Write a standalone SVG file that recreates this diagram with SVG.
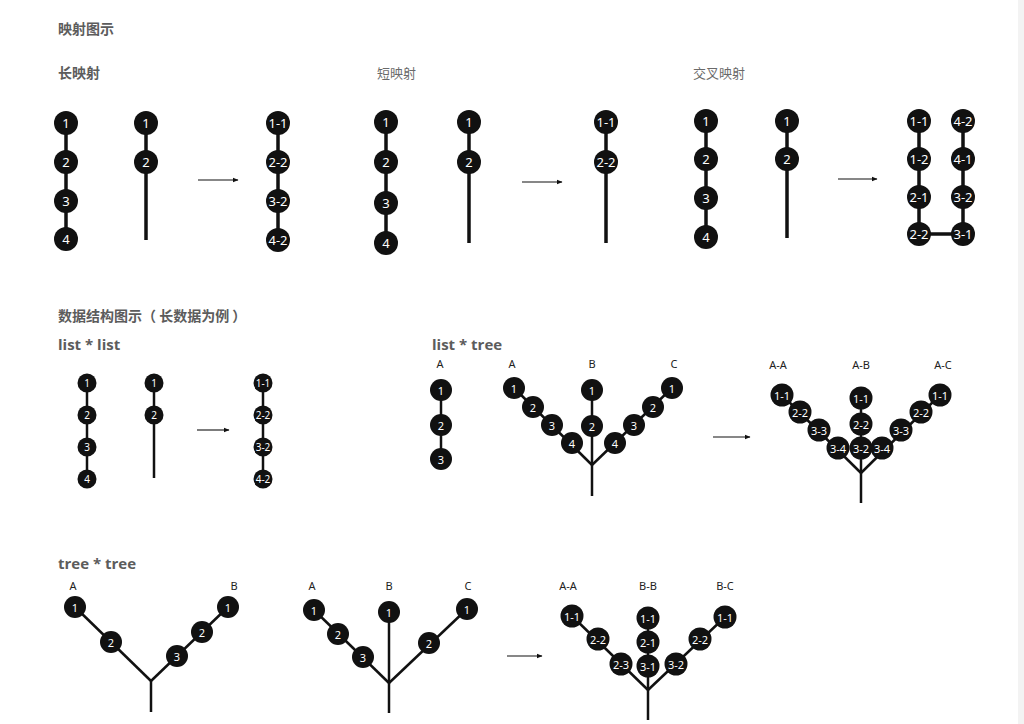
<svg xmlns="http://www.w3.org/2000/svg" width="1024" height="724" viewBox="0 0 1024 724">
<style>
.t{font-family:"Noto Sans CJK SC","Noto Sans",sans-serif;fill:#5c5c5c}
.h{font-size:14px;font-weight:bold}
.s{font-size:13px;font-weight:normal;fill:#6a6a6a}
.e{font-family:"Open Sans","Noto Sans",sans-serif;font-size:15px;font-weight:bold;fill:#5c5c5c}
.lb{font-family:"Noto Sans","Open Sans",sans-serif;font-size:11px;fill:#222;text-anchor:middle}
circle{fill:#111}
.n text{font-family:"Noto Sans","Open Sans",sans-serif;fill:#fff;text-anchor:middle;dominant-baseline:central}
.L text{font-size:13px}
.M text{font-size:10px}
.T text{font-size:11px}
.c line,.c path{stroke:#111;fill:none}
.w3{stroke-width:3.5}
.w2{stroke-width:2.5}
.ar{stroke-width:1.1}
</style>
<defs>
<marker id="ah" markerWidth="6" markerHeight="6" refX="5" refY="3" orient="auto" markerUnits="userSpaceOnUse">
<path d="M0,0.8 L5.5,3 L0,5.2 Z" fill="#111"/>
</marker>
</defs>
<rect width="1024" height="724" fill="#fff"/>
<rect x="1018" y="0" width="6" height="724" fill="#f3f3f3"/>

<g id="titles">
<text class="t h" x="58" y="34">映射图示</text>
<text class="t h" x="58" y="78">长映射</text>
<text class="t s" x="377" y="78">短映射</text>
<text class="t s" x="693" y="78">交叉映射</text>
<text class="t h" x="58" y="321" xml:space="preserve">数据结构图示（ 长数据为例 ）</text>
<text class="e" x="58" y="350">list * list</text>
<text class="e" x="432" y="350">list * tree</text>
<text class="e" x="58" y="569">tree * tree</text>
</g>

<g id="labels">
<text class="lb" x="440" y="368">A</text>
<text class="lb" x="512" y="368">A</text>
<text class="lb" x="592" y="368">B</text>
<text class="lb" x="674" y="368">C</text>
<text class="lb" x="778" y="369">A-A</text>
<text class="lb" x="861" y="369">A-B</text>
<text class="lb" x="943" y="369">A-C</text>
<text class="lb" x="73" y="590">A</text>
<text class="lb" x="234" y="590">B</text>
<text class="lb" x="312" y="590">A</text>
<text class="lb" x="389" y="590">B</text>
<text class="lb" x="468" y="590">C</text>
<text class="lb" x="568" y="590">A-A</text>
<text class="lb" x="648" y="590">B-B</text>
<text class="lb" x="725" y="590">B-C</text>
</g>

<g id="connectors" class="c">
<line class="w3" x1="66" y1="123" x2="66" y2="239"/>
<line class="w3" x1="146" y1="123" x2="146" y2="240"/>
<line class="ar" x1="198" y1="180" x2="238" y2="180" marker-end="url(#ah)"/>
<line class="w3" x1="278" y1="123" x2="278" y2="240"/>
<line class="w3" x1="386" y1="122" x2="386" y2="243"/>
<line class="w3" x1="469" y1="122" x2="469" y2="243"/>
<line class="ar" x1="522" y1="182" x2="562" y2="182" marker-end="url(#ah)"/>
<line class="w3" x1="606" y1="122" x2="606" y2="243"/>
<line class="w3" x1="706" y1="121" x2="706" y2="237"/>
<line class="w3" x1="787" y1="121" x2="787" y2="238"/>
<line class="ar" x1="838" y1="179" x2="877" y2="179" marker-end="url(#ah)"/>
<path class="w3" d="M919,121 V234 H963 V121"/>
<line class="w2" x1="87" y1="383" x2="87" y2="479"/>
<line class="w2" x1="154" y1="383" x2="154" y2="478"/>
<line class="ar" x1="197" y1="430" x2="229" y2="430" marker-end="url(#ah)"/>
<line class="w2" x1="263" y1="383" x2="263" y2="479"/>
<line class="w2" x1="441" y1="390" x2="441" y2="459"/>
<line class="w2" x1="514" y1="388" x2="592" y2="465"/>
<line class="w2" x1="592" y1="390" x2="592" y2="496"/>
<line class="w2" x1="672" y1="388" x2="592" y2="465"/>
<line class="ar" x1="713" y1="437" x2="750" y2="437" marker-end="url(#ah)"/>
<line class="w2" x1="782" y1="395" x2="861" y2="473"/>
<line class="w2" x1="861" y1="398" x2="861" y2="503"/>
<line class="w2" x1="940" y1="395" x2="861" y2="473"/>
<line class="w2" x1="75" y1="607" x2="151" y2="681"/>
<line class="w2" x1="228" y1="607" x2="151" y2="681"/>
<line class="w2" x1="151" y1="681" x2="151" y2="712"/>
<line class="w2" x1="314" y1="610" x2="389" y2="683"/>
<line class="w2" x1="389" y1="612" x2="389" y2="713"/>
<line class="w2" x1="467" y1="609" x2="389" y2="683"/>
<line class="ar" x1="507" y1="656" x2="542" y2="656" marker-end="url(#ah)"/>
<line class="w2" x1="572" y1="616" x2="648" y2="690"/>
<line class="w2" x1="648" y1="618" x2="648" y2="720"/>
<line class="w2" x1="725" y1="617" x2="648" y2="690"/>
</g>

<g id="long-a" class="n L">
<circle cx="66" cy="123" r="12"/><text x="66" y="123">1</text>
<circle cx="66" cy="162" r="12"/><text x="66" y="162">2</text>
<circle cx="66" cy="201" r="12"/><text x="66" y="201">3</text>
<circle cx="66" cy="239" r="12"/><text x="66" y="239">4</text>
</g>
<g id="long-b" class="n L">
<circle cx="146" cy="123" r="12"/><text x="146" y="123">1</text>
<circle cx="146" cy="162" r="12"/><text x="146" y="162">2</text>
</g>
<g id="long-r" class="n L">
<circle cx="278" cy="123" r="12"/><text x="278" y="123">1-1</text>
<circle cx="278" cy="162" r="12"/><text x="278" y="162">2-2</text>
<circle cx="278" cy="201" r="12"/><text x="278" y="201">3-2</text>
<circle cx="278" cy="240" r="12"/><text x="278" y="240">4-2</text>
</g>
<g id="short-a" class="n L">
<circle cx="386" cy="122" r="12"/><text x="386" y="122">1</text>
<circle cx="386" cy="162" r="12"/><text x="386" y="162">2</text>
<circle cx="386" cy="203" r="12"/><text x="386" y="203">3</text>
<circle cx="386" cy="243" r="12"/><text x="386" y="243">4</text>
</g>
<g id="short-b" class="n L">
<circle cx="469" cy="122" r="12"/><text x="469" y="122">1</text>
<circle cx="469" cy="162" r="12"/><text x="469" y="162">2</text>
</g>
<g id="short-r" class="n L">
<circle cx="606" cy="122" r="12"/><text x="606" y="122">1-1</text>
<circle cx="606" cy="162" r="12"/><text x="606" y="162">2-2</text>
</g>
<g id="cross-a" class="n L">
<circle cx="706" cy="121" r="12"/><text x="706" y="121">1</text>
<circle cx="706" cy="159" r="12"/><text x="706" y="159">2</text>
<circle cx="706" cy="198" r="12"/><text x="706" y="198">3</text>
<circle cx="706" cy="237" r="12"/><text x="706" y="237">4</text>
</g>
<g id="cross-b" class="n L">
<circle cx="787" cy="121" r="12"/><text x="787" y="121">1</text>
<circle cx="787" cy="159" r="12"/><text x="787" y="159">2</text>
</g>
<g id="cross-r" class="n L">
<circle cx="919" cy="121" r="12"/><text x="919" y="121">1-1</text>
<circle cx="919" cy="159" r="12"/><text x="919" y="159">1-2</text>
<circle cx="919" cy="197" r="12"/><text x="919" y="197">2-1</text>
<circle cx="919" cy="234" r="12"/><text x="919" y="234">2-2</text>
<circle cx="963" cy="121" r="12"/><text x="963" y="121">4-2</text>
<circle cx="963" cy="159" r="12"/><text x="963" y="159">4-1</text>
<circle cx="963" cy="197" r="12"/><text x="963" y="197">3-2</text>
<circle cx="963" cy="234" r="12"/><text x="963" y="234">3-1</text>
</g>
<g id="ll-a" class="n M">
<circle cx="87" cy="383" r="9.5"/><text x="87" y="383">1</text>
<circle cx="87" cy="415" r="9.5"/><text x="87" y="415">2</text>
<circle cx="87" cy="447" r="9.5"/><text x="87" y="447">3</text>
<circle cx="87" cy="479" r="9.5"/><text x="87" y="479">4</text>
</g>
<g id="ll-b" class="n M">
<circle cx="154" cy="383" r="9.5"/><text x="154" y="383">1</text>
<circle cx="154" cy="415" r="9.5"/><text x="154" y="415">2</text>
</g>
<g id="ll-r" class="n M">
<circle cx="263" cy="383" r="9.5"/><text x="263" y="383">1-1</text>
<circle cx="263" cy="415" r="9.5"/><text x="263" y="415">2-2</text>
<circle cx="263" cy="447" r="9.5"/><text x="263" y="447">3-2</text>
<circle cx="263" cy="479" r="9.5"/><text x="263" y="479">4-2</text>
</g>
<g id="lt-list" class="n T">
<circle cx="441" cy="390" r="11"/><text x="441" y="390">1</text>
<circle cx="441" cy="425" r="11"/><text x="441" y="425">2</text>
<circle cx="441" cy="459" r="11"/><text x="441" y="459">3</text>
</g>
<g id="lt-tree" class="n T">
<circle cx="514" cy="388" r="11"/><text x="514" y="388">1</text>
<circle cx="533" cy="407" r="11"/><text x="533" y="407">2</text>
<circle cx="552" cy="425" r="11"/><text x="552" y="425">3</text>
<circle cx="572" cy="443" r="11"/><text x="572" y="443">4</text>
<circle cx="592" cy="390" r="11"/><text x="592" y="390">1</text>
<circle cx="592" cy="426" r="11"/><text x="592" y="426">2</text>
<circle cx="672" cy="388" r="11"/><text x="672" y="388">1</text>
<circle cx="653" cy="407" r="11"/><text x="653" y="407">2</text>
<circle cx="634" cy="425" r="11"/><text x="634" y="425">3</text>
<circle cx="615" cy="443" r="11"/><text x="615" y="443">4</text>
</g>
<g id="lt-result" class="n T">
<circle cx="782" cy="395" r="11.5"/><text x="782" y="395">1-1</text>
<circle cx="800" cy="412" r="11.5"/><text x="800" y="412">2-2</text>
<circle cx="819" cy="430" r="11.5"/><text x="819" y="430">3-3</text>
<circle cx="838" cy="448" r="11.5"/><text x="838" y="448">3-4</text>
<circle cx="861" cy="398" r="11.5"/><text x="861" y="398">1-1</text>
<circle cx="861" cy="424" r="11.5"/><text x="861" y="424">2-2</text>
<circle cx="861" cy="448" r="11.5"/><text x="861" y="448">3-2</text>
<circle cx="940" cy="395" r="11.5"/><text x="940" y="395">1-1</text>
<circle cx="921" cy="412" r="11.5"/><text x="921" y="412">2-2</text>
<circle cx="901" cy="430" r="11.5"/><text x="901" y="430">3-3</text>
<circle cx="882" cy="448" r="11.5"/><text x="882" y="448">3-4</text>
</g>
<g id="tt-a" class="n T">
<circle cx="75" cy="607" r="11"/><text x="75" y="607">1</text>
<circle cx="111" cy="642" r="11"/><text x="111" y="642">2</text>
<circle cx="228" cy="607" r="11"/><text x="228" y="607">1</text>
<circle cx="202" cy="632" r="11"/><text x="202" y="632">2</text>
<circle cx="177" cy="656" r="11"/><text x="177" y="656">3</text>
</g>
<g id="tt-b" class="n T">
<circle cx="314" cy="610" r="11"/><text x="314" y="610">1</text>
<circle cx="338" cy="634" r="11"/><text x="338" y="634">2</text>
<circle cx="363" cy="657" r="11"/><text x="363" y="657">3</text>
<circle cx="389" cy="612" r="11"/><text x="389" y="612">1</text>
<circle cx="467" cy="609" r="11"/><text x="467" y="609">1</text>
<circle cx="429" cy="643" r="11"/><text x="429" y="643">2</text>
</g>
<g id="tt-result" class="n T">
<circle cx="572" cy="616" r="11.5"/><text x="572" y="616">1-1</text>
<circle cx="598" cy="639" r="11.5"/><text x="598" y="639">2-2</text>
<circle cx="621" cy="664" r="11.5"/><text x="621" y="664">2-3</text>
<circle cx="648" cy="618" r="11.5"/><text x="648" y="618">1-1</text>
<circle cx="648" cy="642" r="11.5"/><text x="648" y="642">2-1</text>
<circle cx="648" cy="666" r="11.5"/><text x="648" y="666">3-1</text>
<circle cx="725" cy="617" r="11.5"/><text x="725" y="617">1-1</text>
<circle cx="700" cy="639" r="11.5"/><text x="700" y="639">2-2</text>
<circle cx="676" cy="664" r="11.5"/><text x="676" y="664">3-2</text>
</g>
</svg>
